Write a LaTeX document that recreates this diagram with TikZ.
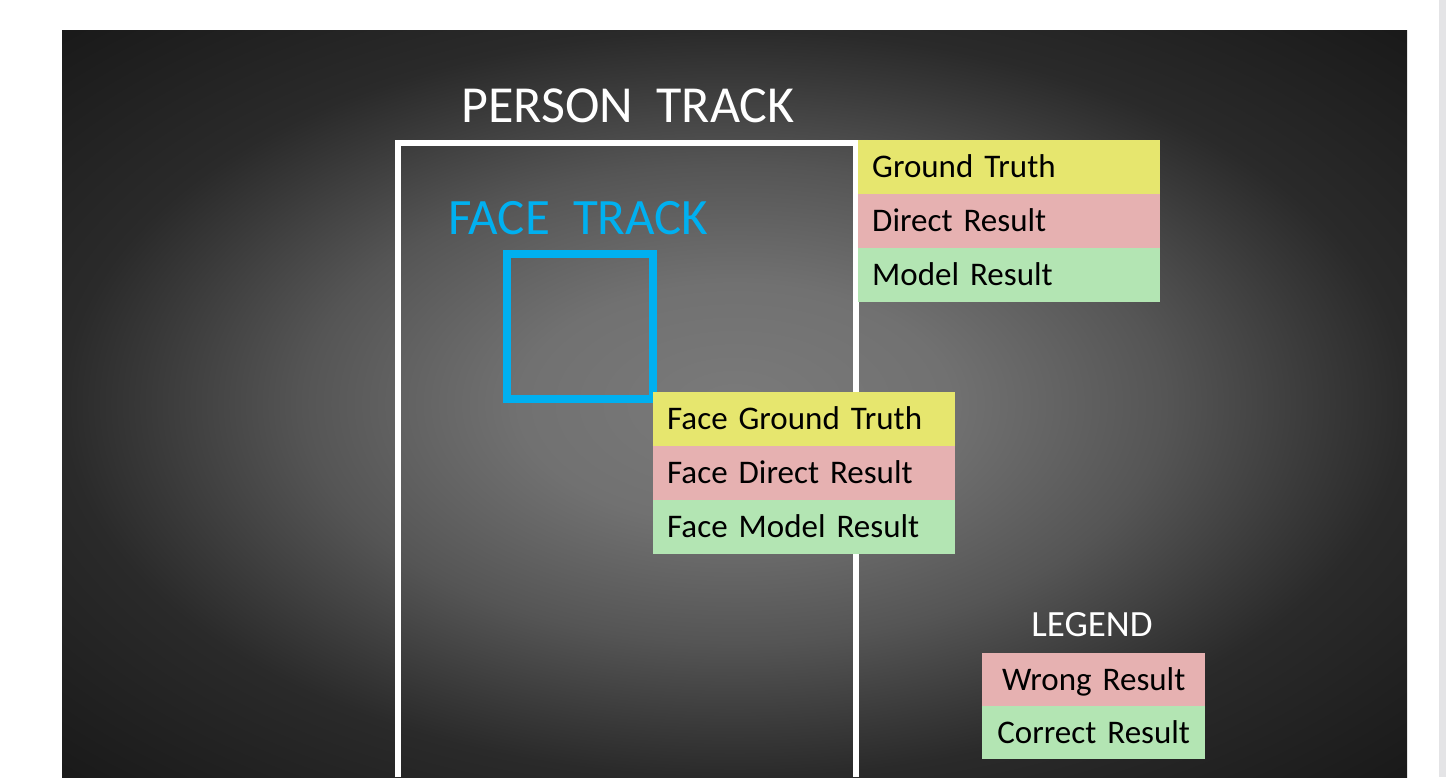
\documentclass[tikz,border=0pt]{standalone}
\usepackage{fontspec}
\setmainfont{Carlito}
\definecolor{glowin}{HTML}{7A7A7A}
\definecolor{glowinner}{HTML}{717171}
\definecolor{glowmid}{HTML}{555555}
\definecolor{glowouter}{HTML}{383838}
\definecolor{glowedge}{HTML}{2A2A2A}
\definecolor{glowcorner}{HTML}{1A1A1A}
\definecolor{scrollgray}{HTML}{E4E4E6}
\definecolor{facetrack}{HTML}{00B0F0}
\definecolor{truthyellow}{HTML}{E6E66E}
\definecolor{wrongpink}{HTML}{E6B1B1}
\definecolor{rightgreen}{HTML}{B3E5B3}
\pgfdeclareradialshading{panelglow}{\pgfpoint{0bp}{0bp}}{color(0bp)=(glowin); color(8bp)=(glowinner); color(16bp)=(glowmid); color(22bp)=(glowouter); color(25bp)=(glowedge); color(35bp)=(glowcorner); color(50bp)=(glowcorner)}
\begin{document}
\begin{tikzpicture}[x=1pt,y=-1pt,
    cell/.style={anchor=north west, minimum height=54pt, text width=274pt, inner xsep=14pt, inner ysep=0pt,
        text height=21pt, text depth=0pt, align=left, font=\fontsize{33}{38}\selectfont},
    keycell/.style={cell, minimum height=53pt, text width=201pt, inner xsep=11pt, align=center},
    title/.style={inner sep=0pt, text=white, font=\fontsize{52}{60}\selectfont}]
    \fill[white] (0,0) rectangle (1446,777);
    \useasboundingbox (0,0) rectangle (1446,777);
    \fill[scrollgray] (1439,0) rectangle (1446,777);
    \shade[shading=panelglow] (62,30) rectangle (1407,777);
    % person track
    \draw[white, line width=6pt] (398,777) -- (398,143) -- (856,143) -- (856,777);
    \node[title, anchor=base] (persontitle) at (628,122) {PERSON~~TRACK};
    % face track
    \draw[facetrack, line width=8pt] (507,254) rectangle (653,399);
    \node[title, anchor=base west, text=facetrack, font=\fontsize{51}{58}\selectfont] (facetitle) at (448,234) {FACE~~TRACK};
    % result tables
    \foreach \y/\lab/\col in {140/Ground Truth/truthyellow, 194/Direct Result/wrongpink, 248/Model Result/rightgreen}{
        \node[cell, fill=\col] (personrow\y) at (858,\y) {\lab};
    }
    \foreach \y/\lab/\col in {392/Face Ground Truth/truthyellow, 446/Face Direct Result/wrongpink, 500/Face Model Result/rightgreen}{
        \node[cell, fill=\col] (facerow\y) at (653,\y) {\lab};
    }
    % legend
    \node[title, anchor=base, font=\fontsize{37}{42}\selectfont] (legendtitle) at (1092,636) {LEGEND};
    \foreach \y/\lab/\col in {653/Wrong Result/wrongpink, 706/Correct Result/rightgreen}{
        \node[keycell, fill=\col] (keyrow\y) at (982,\y) {\lab};
    }
\end{tikzpicture}
\end{document}
